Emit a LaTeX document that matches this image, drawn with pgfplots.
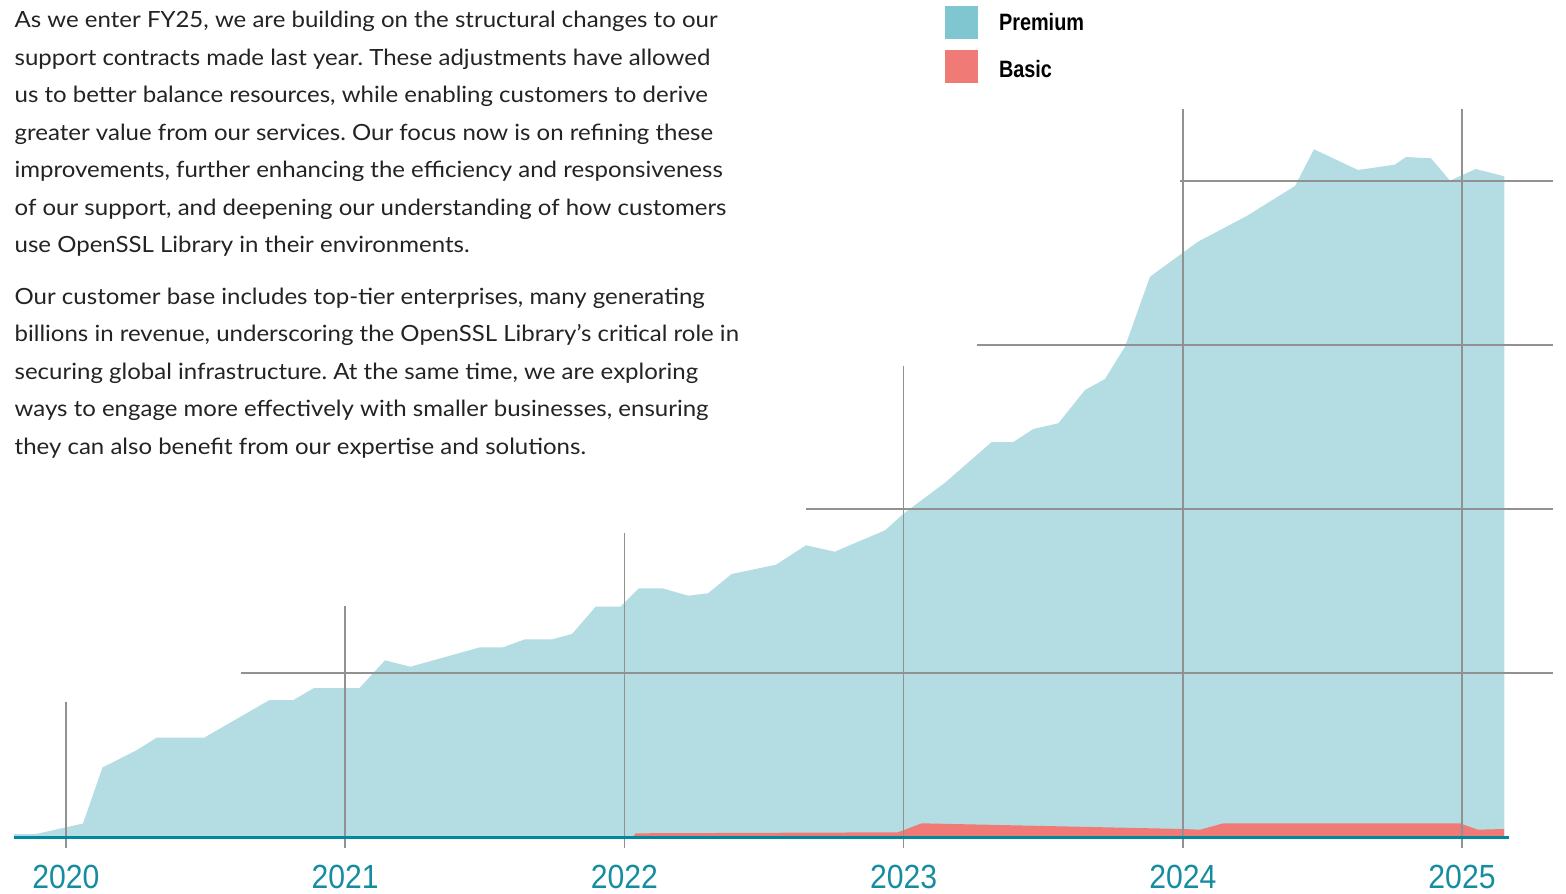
\documentclass[border=0pt]{standalone}
\usepackage{fontspec}
\setmainfont{Lato}
\newfontfamily\bodyfont[FakeStretch=1.075]{Lato}
\newfontfamily\yearfont[FakeStretch=0.9]{Liberation Sans}
\newfontfamily\legfont[FakeStretch=0.84]{Liberation Sans}
\usepackage{pgfplots}
\pgfplotsset{compat=1.18}
\definecolor{premium}{RGB}{127,198,208}
\definecolor{premiumfill}{RGB}{180,221,227}
\definecolor{basic}{RGB}{240,122,117}
\definecolor{tealax}{RGB}{0,136,158}
\definecolor{yeartxt}{RGB}{22,140,160}
\definecolor{gridg}{RGB}{145,145,145}
\definecolor{bodytxt}{RGB}{35,35,35}
\begin{document}
\frenchspacing
\begin{tikzpicture}
\begin{axis}[
  at={(4.2pt,16.8pt)}, anchor=south west,
  scale only axis, width=448.5pt, height=251.1pt,
  xmin=2019.8138, xmax=2025.16834, ymin=0, ymax=510.366,
  clip=false,
  axis line style={draw=none},
  ytick=\empty,
  xtick={2020,2021,2022,2023,2024,2025},
  xticklabels={2020,2021,2022,2023,2024,2025},
  major tick length=0pt,
  xticklabel style={font=\yearfont\fontsize{10.05pt}{12pt}\selectfont, text=yeartxt, anchor=north, inner sep=0pt, text height=7.2pt, text depth=0pt, yshift=-7.9pt},
  legend cell align=left,
  legend style={draw=none, fill=none, at={(0.62274,0.99283)}, anchor=north west,
    inner sep=0pt, outer sep=0pt, row sep=3.3pt,
    nodes={inner sep=0pt, text height=5pt, text depth=0pt, font=\legfont\bfseries\fontsize{7.1pt}{8pt}\selectfont, text=black},
    /tikz/every odd column/.append style={column sep=6.3pt}},
]
\addplot[draw=none, fill=premiumfill,
  legend image code/.code={\fill[premium, fill opacity=1, draw=none] (0pt,-4.95pt) rectangle (9.9pt,4.95pt);}]
coordinates {
(2019.8138,1.83) (2019.8926,1.83) (2020.0609,8.23) (2020.1307,42.38)
(2020.2543,53.05) (2020.3259,60.67) (2020.4961,60.67) (2020.7289,83.54)
(2020.8148,83.54) (2020.8883,90.85) (2021.0512,90.85) (2021.1426,107.74)
(2021.2339,103.84) (2021.4828,115.67) (2021.5652,115.67) (2021.6440,120.55)
(2021.7425,120.55) (2021.8123,123.78) (2021.8972,140.43) (2021.9860,140.43)
(2022.0512,151.65) (2022.1357,151.65) (2022.2289,147.13) (2022.2994,148.60)
(2022.3843,160.37) (2022.5430,166.04) (2022.6504,177.87) (2022.7532,173.96)
(2022.9334,187.01) (2023.0014,197.38) (2023.1483,216.04) (2023.3155,240.85)
(2023.3929,240.85) (2023.4645,248.78) (2023.5541,252.26) (2023.6497,272.56)
(2023.7213,279.27) (2023.7929,298.96) (2023.8825,341.65) (2024.0544,362.99)
(2024.2289,378.66) (2024.4018,396.95) (2024.4699,419.33) (2024.6275,406.71)
(2024.7590,409.94) (2024.7994,414.63) (2024.8890,413.84) (2024.9570,400.18)
(2025.0490,407.32) (2025.1515,402.87)
} \closedcycle;
\addlegendentry{Premium}
\addplot[draw=none, fill=basic,
  legend image code/.code={\fill[basic, fill opacity=1, draw=none] (0pt,-4.95pt) rectangle (9.9pt,4.95pt);}]
coordinates {
(2022.0308,0) (2022.0398,2.26) (2022.9799,2.87) (2023.0648,8.35)
(2024.0018,4.88) (2024.0616,4.45) (2024.1451,8.35) (2024.9928,8.35)
(2025.0562,4.45) (2025.1504,4.88)
} \closedcycle;
\addlegendentry[yshift=-0.9pt]{Basic}
% decorative grid lines
\draw[gridg, line width=0.45pt] (axis cs:2020,-6.7) -- (axis cs:2020,82.3);
\draw[gridg, line width=0.45pt] (axis cs:2021,-6.7) -- (axis cs:2021,140.9);
\draw[gridg, line width=0.45pt] (axis cs:2022,-6.7) -- (axis cs:2022,185.4);
\draw[gridg, line width=0.45pt] (axis cs:2023,-6.7) -- (axis cs:2023,287.2);
\draw[gridg, line width=0.45pt] (axis cs:2024,-6.7) -- (axis cs:2024,443.9);
\draw[gridg, line width=0.45pt] (axis cs:2025,-6.7) -- (axis cs:2025,443.9);
\draw[gridg, line width=0.45pt] (axis cs:2020.6268,100) -- (axis cs:2025.3259,100);
\draw[gridg, line width=0.45pt] (axis cs:2022.6504,200) -- (axis cs:2025.3259,200);
\draw[gridg, line width=0.45pt] (axis cs:2023.2629,300) -- (axis cs:2025.3259,300);
\draw[gridg, line width=0.45pt] (axis cs:2023.9900,400) -- (axis cs:2025.3259,400);
\draw[tealax, line width=0.9pt] (axis cs:2019.8138,0) -- (axis cs:2025.16834,0);
\end{axis}
\begin{scope}[x=0.3pt,y=0.3pt, every node/.style={anchor=base west, inner sep=0pt, text=bodytxt, font=\bodyfont\fontsize{6.7pt}{7.5pt}\selectfont}]
\node at (14,865.2) {As we enter FY25, we are building on the structural changes to our};
\node at (14,827.7) {support contracts made last year. These adjustments have allowed};
\node at (14,790.2) {us to better balance resources, while enabling customers to derive};
\node at (14,752.7) {greater value from our services. Our focus now is on refining these};
\node at (14,715.2) {improvements, further enhancing the efficiency and responsiveness};
\node at (14,677.7) {of our support, and deepening our understanding of how customers};
\node at (14,640.2) {use OpenSSL Library in their environments.};
\node at (14,588.5) {Our customer base includes top-tier enterprises, many generating};
\node at (14,551.1) {billions in revenue, underscoring the OpenSSL Library’s critical role in};
\node at (14,513.7) {securing global infrastructure. At the same time, we are exploring};
\node at (14,476.3) {ways to engage more effectively with smaller businesses, ensuring};
\node at (14,438.9) {they can also benefit from our expertise and solutions.};
\end{scope}
\pgfresetboundingbox
\path[use as bounding box] (0,0) rectangle (469.8pt,267.9pt);
\end{tikzpicture}
\end{document}
